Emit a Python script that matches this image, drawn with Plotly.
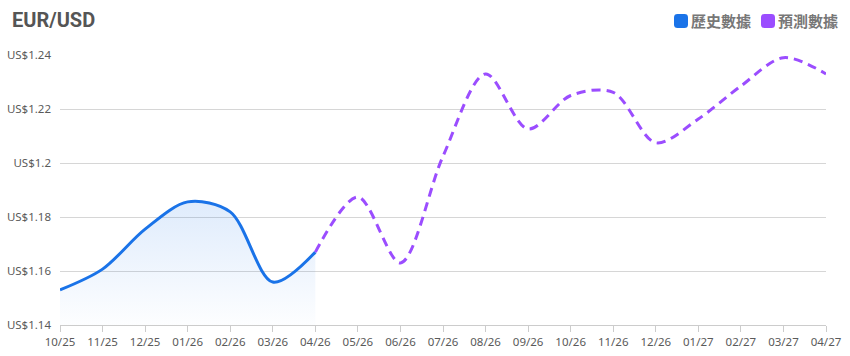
import plotly.graph_objects as go

months = ["10/25", "11/25", "12/25", "01/26", "02/26", "03/26", "04/26", "05/26", "06/26",
          "07/26", "08/26", "09/26", "10/26", "11/26", "12/26", "01/27", "02/27", "03/27", "04/27"]
hist_months = months[:7]
hist_values = [1.153, 1.1607, 1.1755, 1.1856, 1.1819, 1.1559, 1.1670]
fc_months = months[6:]
fc_values = [1.1670, 1.1874, 1.1630, 1.2025, 1.2330, 1.2126, 1.2250, 1.2262, 1.2075,
             1.2163, 1.2285, 1.2390, 1.2330]
y_ticks = [1.14, 1.16, 1.18, 1.2, 1.22, 1.24]
y_tick_text = ["US$1.14", "US$1.16", "US$1.18", "US$1.2", "US$1.22", "US$1.24"]
legend_names = ["歷史數據", "預測數據"]

BLUE = "#1a73e8"
PURPLE = "#9b4dff"

W, H = 850, 356
ML, MR, MT, MB = 60, 24, 55, 31
PW, PH = W - ML - MR, H - MT - MB


def px_to_paper(px, py):
    return (px - ML) / PW, (H - MB - py) / PH


def rounded_square(cx, cy, size, r):
    x0, x1 = cx - size / 2, cx + size / 2
    y0, y1 = cy - size / 2, cy + size / 2

    def P(x, y):
        a, b = px_to_paper(x, y)
        return f"{a:.5f},{b:.5f}"
    return (f"M {P(x0 + r, y0)} L {P(x1 - r, y0)} Q {P(x1, y0)} {P(x1, y0 + r)} "
            f"L {P(x1, y1 - r)} Q {P(x1, y1)} {P(x1 - r, y1)} "
            f"L {P(x0 + r, y1)} Q {P(x0, y1)} {P(x0, y1 - r)} "
            f"L {P(x0, y0 + r)} Q {P(x0, y0)} {P(x0 + r, y0)} Z")


idx = {m: i for i, m in enumerate(months)}
hx = [idx[m] for m in hist_months]
fx = [idx[m] for m in fc_months]

fig = go.Figure()
fig.add_trace(go.Scatter(
    x=hx, y=hist_values, mode="lines",
    line=dict(color=BLUE, width=3, shape="spline", smoothing=0.9),
    fill="tozeroy",
    fillgradient=dict(type="vertical", start=1.14, stop=1.186,
                      colorscale=[[0, "rgba(26,115,232,0.01)"], [1, "rgba(26,115,232,0.14)"]]),
    showlegend=False, hoverinfo="skip"))
fig.add_trace(go.Scatter(
    x=fx, y=fc_values, mode="lines",
    line=dict(color=PURPLE, width=3, dash="9px,6px", shape="spline", smoothing=0.9),
    showlegend=False, hoverinfo="skip"))

shapes = []
annotations = []
for (cx, tx), name, col in zip([(681, 690), (768, 777)], legend_names, [BLUE, PURPLE]):
    shapes.append(dict(type="path", xref="paper", yref="paper",
                       path=rounded_square(cx, 21, 14, 3.5),
                       fillcolor=col, line=dict(width=0)))
    ax, ay = px_to_paper(tx, 21)
    annotations.append(dict(text=name, xref="paper", yref="paper", x=ax, y=ay,
                            xanchor="left", yanchor="middle", showarrow=False,
                            borderpad=0,
                            font=dict(family="Noto Sans CJK TC", size=15, color="#777",
                                      weight="bold")))

fig.update_layout(
    width=W, height=H,
    margin=dict(l=ML, r=MR, t=MT, b=MB, autoexpand=False),
    paper_bgcolor="white", plot_bgcolor="white",
    font=dict(family="Noto Sans, Noto Sans CJK TC", size=11.5, color="#5a5a5a"),
    title=dict(text="<b>EUR/USD</b>", x=12 / W, xanchor="left", xref="container",
               y=1 - 20 / H, yanchor="middle", yref="container",
               font=dict(family="Roboto", size=20, color="#555")),
    showlegend=False,
    shapes=shapes,
    annotations=annotations,
    xaxis=dict(range=[0, 18], tickvals=list(range(len(months))), ticktext=months,
               showgrid=False, zeroline=False, showline=True, linecolor="#ccc", linewidth=1,
               ticks="outside", ticklen=6, tickcolor="#ccc", fixedrange=True,
               automargin=False),
    yaxis=dict(range=[1.14, 1.24], tickvals=y_ticks, ticktext=y_tick_text,
               showgrid=True, gridcolor="#d6d6d6", gridwidth=1, zeroline=False,
               showline=False, ticks="", ticklabelstandoff=8, fixedrange=True,
               automargin=False),
)
fig.write_html("out.html")
